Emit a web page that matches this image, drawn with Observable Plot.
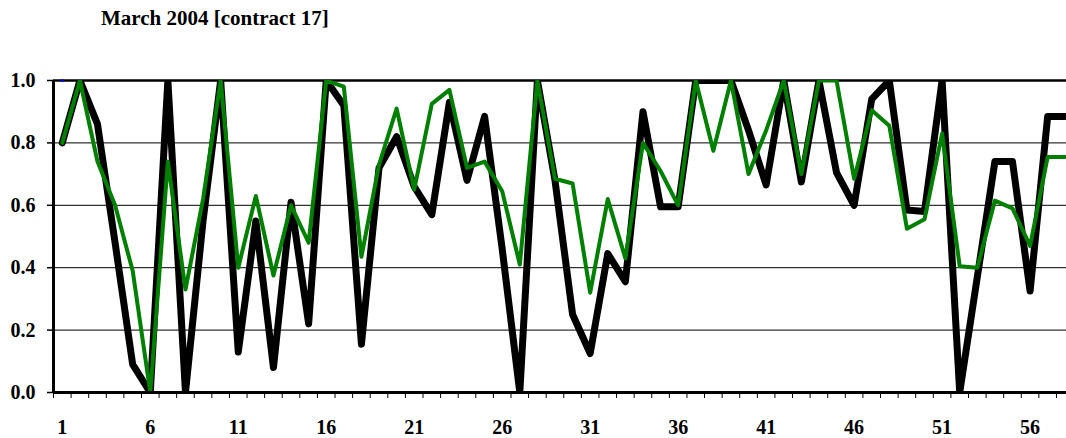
<!DOCTYPE html>
<html>
<head>
<meta charset="utf-8">
<script src="https://cdn.jsdelivr.net/npm/d3@7"></script>
<script src="https://cdn.jsdelivr.net/npm/@observablehq/plot@0.6"></script>
<style>
  html, body { margin: 0; padding: 0; background: #fff; overflow: hidden; }
  #title { height: 36px; box-sizing: border-box; padding-top: 6px; padding-left: 101px;
           font: bold 21px/24px "Liberation Serif", "Times New Roman", serif; color: #000; white-space: nowrap; }
  svg { display: block; }
</style>
</head>
<body>
<div id="title">March 2004 [contract 17]</div>
<div id="chart"></div>
<script>
const categories = [1,2,3,4,5,6,7,8,9,10,11,12,13,14,15,16,17,18,19,20,21,22,23,24,25,26,27,28,29,30,
  31,32,33,34,35,36,37,38,39,40,41,42,43,44,45,46,47,48,49,50,51,52,53,54,55,56,57,58];
const blackValues = [0.80,1.00,0.86,0.48,0.09,0.00,1.00,0.00,0.55,1.00,
  0.13,0.55,0.08,0.61,0.22,1.00,0.92,0.155,0.72,0.82,
  0.66,0.57,0.93,0.68,0.885,0.46,0.00,1.00,0.68,0.25,
  0.125,0.445,0.355,0.90,0.595,0.595,1.00,1.00,1.00,0.84,
  0.665,1.00,0.675,1.00,0.705,0.60,0.94,1.00,0.585,0.58,
  1.00,0.00,0.37,0.74,0.74,0.325,0.885,0.885];
const greenValues = [0.80,1.00,0.74,0.60,0.39,0.00,0.74,0.33,0.62,1.00,
  0.40,0.63,0.375,0.60,0.48,1.00,0.98,0.435,0.73,0.91,
  0.65,0.925,0.97,0.72,0.74,0.645,0.41,1.00,0.685,0.67,
  0.32,0.62,0.43,0.80,0.71,0.60,1.00,0.775,1.00,0.70,
  0.84,1.00,0.70,1.00,1.00,0.685,0.905,0.855,0.525,0.555,
  0.83,0.405,0.40,0.615,0.59,0.47,0.755,0.755];
const blueCategories = [1];
const blueValues = [1.00];
const xTickLabels = [1, 6, 11, 16, 21, 26, 31, 36, 41, 46, 51, 56];
const yTicks = [0, 0.2, 0.4, 0.6, 0.8, 1.0];
const yGrid = [0.2, 0.4, 0.6, 0.8];

const blackData = categories.map((c, i) => ({x: c, y: blackValues[i]}));
const greenData = categories.map((c, i) => ({x: c, y: greenValues[i]}));
const blueData = blueCategories.map((c, i) => ({x: c, y: blueValues[i]}));
const boundaries = categories.map(c => c - 0.5);

const chart = Plot.plot({
  width: 1066,
  height: 402,
  marginTop: 44,
  marginBottom: 46,
  marginLeft: 53,
  marginRight: 0,
  style: {fontFamily: "'Liberation Serif', 'Times New Roman', serif", fontSize: "20px", fontWeight: "bold", color: "#000", background: "#fff"},
  x: {type: "linear", domain: [0.5, 58.07]},
  y: {domain: [0, 1]},
  marks: [
    Plot.ruleY(yGrid, {stroke: "#000", strokeWidth: 1}),
    Plot.ruleY([1], {stroke: "#000", strokeWidth: 2.5}),
    Plot.lineY(blackData, {x: "x", y: "y", stroke: "#000", strokeWidth: 7, strokeLinejoin: "round", strokeLinecap: "round", clip: "frame"}),
    Plot.lineY(greenData, {x: "x", y: "y", stroke: "#008000", strokeWidth: 4, strokeLinejoin: "round", strokeLinecap: "round", clip: "frame"}),
    Plot.dot(blueData, {x: "x", y: "y", r: 1.5, fill: "#0000ff", stroke: null}),
    Plot.axisY({ticks: yTicks, tickFormat: d3.format(".1f"), tickSize: 6, tickPadding: 12, label: null, stroke: "#000", strokeWidth: 1.5, strokeOpacity: 1}),
    Plot.axisX({ticks: boundaries, tickFormat: () => "", tickSize: 6, label: null, stroke: "#000", strokeWidth: 1, strokeOpacity: 1}),
    Plot.axisX({ticks: xTickLabels, tickFormat: d => String(d), tickSize: 0, tickPadding: 27, label: null}),
    Plot.ruleX([0.5], {stroke: "#000", strokeWidth: 3}),
    Plot.ruleY([0], {stroke: "#000", strokeWidth: 3})
  ]
});
document.getElementById("chart").appendChild(chart);
</script>
</body>
</html>
